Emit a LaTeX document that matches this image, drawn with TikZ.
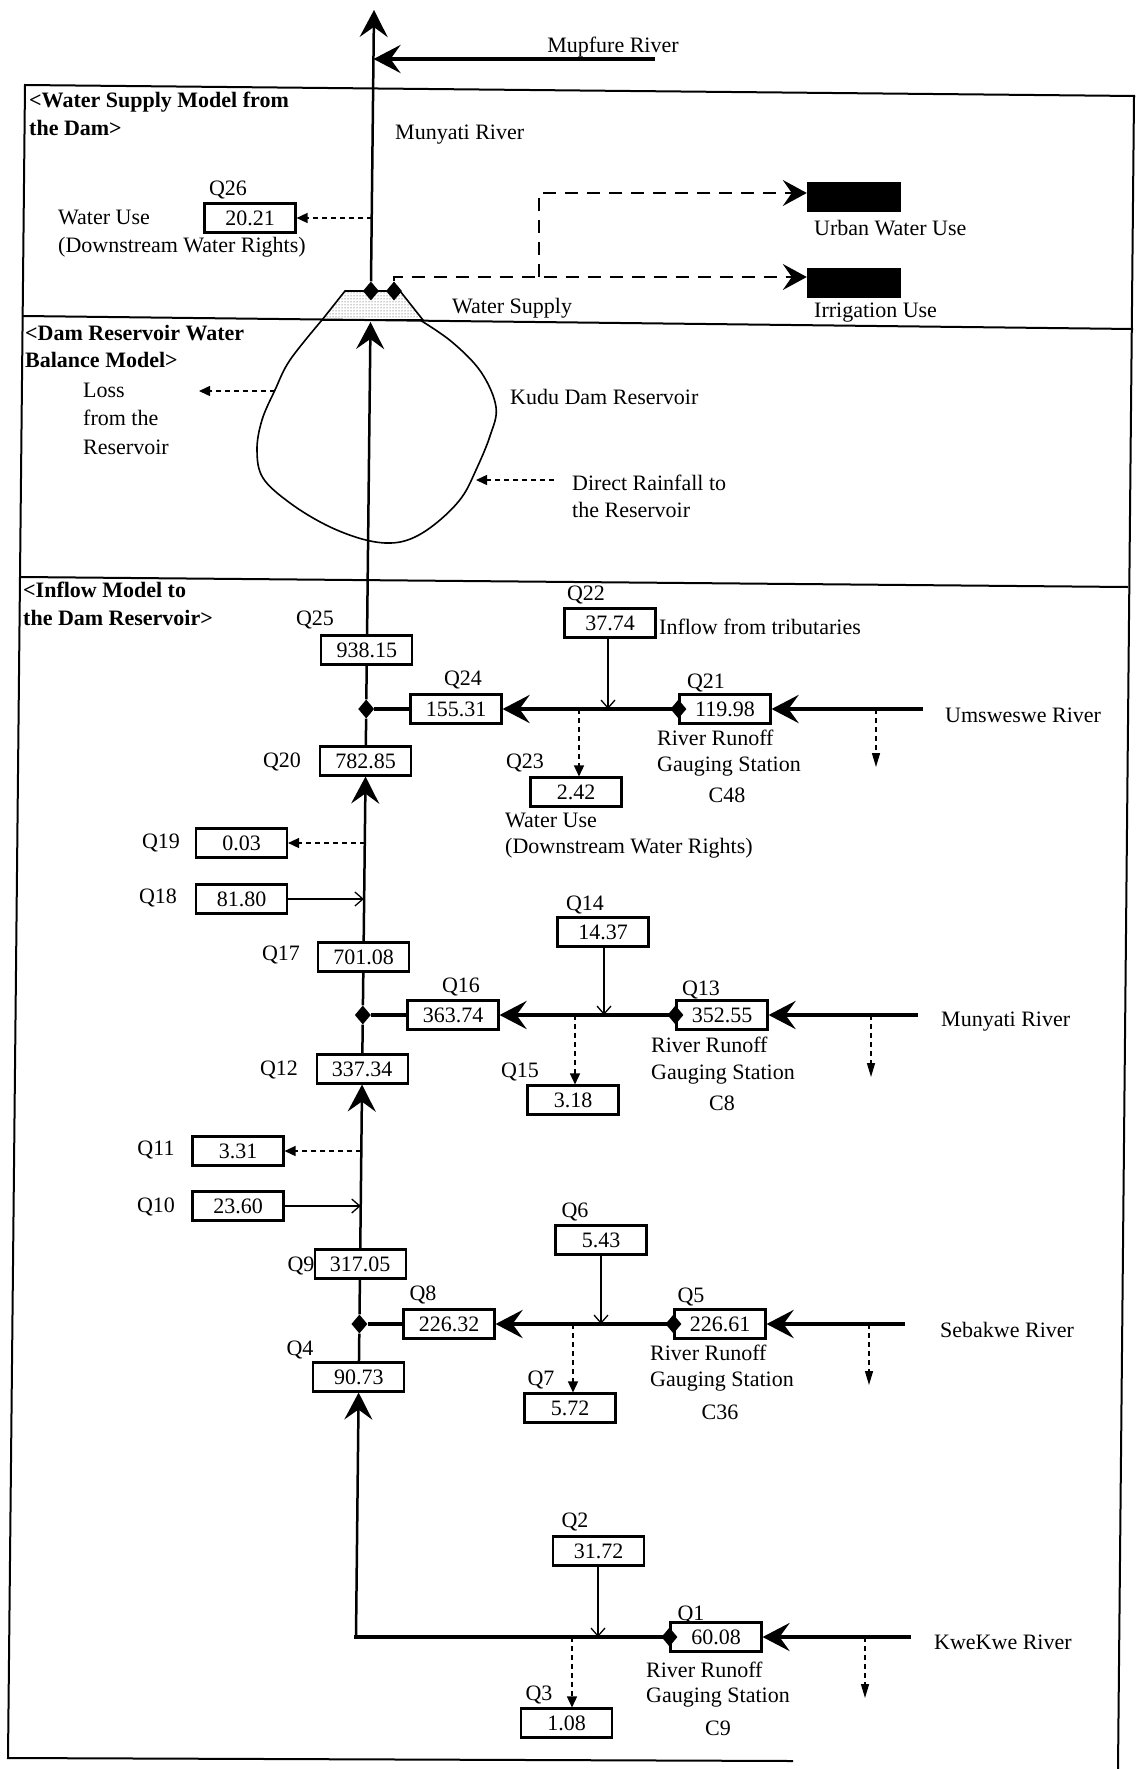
\documentclass[tikz,border=0pt]{standalone}
\usepackage{fontspec}
\setmainfont{Liberation Serif}
\usetikzlibrary{arrows.meta,shapes.geometric,patterns}
\begin{document}
\begin{tikzpicture}[x=1pt,y=-1pt,
  txt/.style={font=\fontsize{22}{28.5}\selectfont, inner sep=0pt},
  lft/.style={txt, anchor=west},
  hdr/.style={anchor=west, inner sep=0pt, font=\fontsize{22}{27}\selectfont\bfseries},
  qbox/.style={txt, draw, line width=2.1pt, fill=white, minimum width=91pt, minimum height=29pt},
  dia/.style={diamond, fill=black, inner sep=0pt, minimum width=16pt, minimum height=19pt},
  blk/.style={fill=black, inner sep=0pt, minimum width=94pt, minimum height=30pt},
  mainln/.style={line width=2.5pt},
  river/.style={line width=4.4pt},
  bigtip/.style={-{Stealth[length=27pt,width=28pt,inset=10pt]}},
  suptip/.style={-{Stealth[length=24pt,width=26pt,inset=9pt]}},
  thinarr/.style={line width=1.3pt, -{Straight Barb[length=8pt,width=14pt]}},
  dsh/.style={line width=1.4pt, dash pattern=on 5pt off 4pt, -{Triangle[length=11pt,width=10pt]}},
  dshd/.style={line width=1.4pt, dash pattern=on 5pt off 4pt, -{Triangle[length=14pt,width=8pt]}},
  supply/.style={line width=2.2pt, dash pattern=on 13pt off 9pt},
  framel/.style={line width=2pt}
]
\useasboundingbox (0,0) rectangle (1135,1769);

% ---------- frame and separators ----------
\draw[framel] (1135,96) -- (25,85) -- (8,1758) -- (793,1761);
\draw[framel] (1134,96) -- (1118,1769);
\draw[framel] (23,316) -- (1133,329);
\draw[framel] (21,577) -- (1128,587);

% ---------- section headers ----------
\node[hdr] at (29,102) {<Water Supply Model from};
\node[hdr] at (29,128) {the Dam>};
\node[hdr] at (25,333) {<Dam Reservoir Water};
\node[hdr] at (25,360) {Balance Model>};
\node[hdr] at (23,590) {<Inflow Model to};
\node[hdr] at (23,618) {the Dam Reservoir>};

% ---------- top: dam and water supply ----------
\coordinate (top) at (374,10);
\coordinate (mupE) at (655,59);
\coordinate (mupW) at (373.5,59);
\draw[line width=1.6pt, pattern=dots, pattern color=black!80] (345,291) -- (400,291) -- (423,320) -- (322,320) -- cycle;
\node[dia] (d1) at (370.9,291) {};
\node[dia] (d2) at (394,291) {};
\draw[mainln,bigtip] (d1) -- (top);
\draw[river,bigtip] (mupE) -- (mupW);
\node[txt] at (613,47) {Mupfure River};
\node[lft] at (395,135) {Munyati River};

\node[qbox] (Q26) at (250,218) {20.21};
\node[txt] at (228,190) {Q26};
\node[lft] at (58,217) {Water Use};
\node[lft] at (58,247) {(Downstream Water Rights)};
\coordinate (m26) at (371.7,218);
\draw[dsh] (m26) -- (Q26);

\node[blk] (urban) at (854,197) {};
\node[blk] (irr) at (854,283) {};
\coordinate (ws1) at (394,277);
\coordinate (ws2) at (539,277);
\coordinate (ws3) at (539,193);
\draw[supply,suptip] (d2) -- (ws1) -- (ws2) -- (ws2 -| irr.west);
\draw[supply,suptip] (ws2) -- (ws3) -- (ws3 -| urban.west);
\node[lft] at (814,228) {Urban Water Use};
\node[lft] at (814,313) {Irrigation Use};
\node[lft] at (452,308) {Water Supply};

% ---------- reservoir ----------
\draw[line width=1.6pt] plot[smooth, tension=0.6] coordinates {(322,320) (290,360) (275,390) (262,420) (257,450) (263,478) (290,503) (326,525) (362,539) (391,543) (415,537) (440,520) (462,497) (476,470) (490,436) (496,407) (481,372) (452,342) (420,320)};
\coordinate (lossA) at (275,391);
\coordinate (lossB) at (199,391);
\draw[dsh] (lossA) -- (lossB);
\node[lft] at (83,390) {Loss};
\node[lft] at (83,418) {from the};
\node[lft] at (83,447) {Reservoir};
\node[lft] at (510,397) {Kudu Dam Reservoir};
\coordinate (rainA) at (554,480);
\coordinate (rainB) at (476,480);
\draw[dsh] (rainA) -- (rainB);
\node[lft] at (572,483) {Direct Rainfall to};
\node[lft] at (572,510) {the Reservoir};

% ---------- boxes of inflow model ----------
\node[qbox] (Q25) at (366.9,650) {938.15};
\node[qbox] (Q20) at (365.7,761) {782.85};
\node[qbox] (Q17) at (363.5,957) {701.08};
\node[qbox] (Q12) at (362.2,1069) {337.34};
\node[qbox] (Q9)  at (360.1,1264) {317.05};
\node[qbox] (Q4)  at (358.8,1377) {90.73};
\node[qbox] (Q24) at (456,709) {155.31};
\node[qbox] (Q21) at (725,709) {119.98};
\node[qbox] (Q22) at (610,623) {37.74};
\node[qbox] (Q23) at (576,792) {2.42};
\node[qbox] (Q19) at (241.5,843) {0.03};
\node[qbox] (Q18) at (241.5,899) {81.80};
\node[qbox] (Q16) at (453,1015) {363.74};
\node[qbox] (Q13) at (722,1015) {352.55};
\node[qbox] (Q14) at (603,932) {14.37};
\node[qbox] (Q15) at (573,1100) {3.18};
\node[qbox] (Q11) at (238,1151) {3.31};
\node[qbox] (Q10) at (238,1206) {23.60};
\node[qbox] (Q8)  at (449,1324) {226.32};
\node[qbox] (Q5)  at (720,1324) {226.61};
\node[qbox] (Q6)  at (601,1240) {5.43};
\node[qbox] (Q7)  at (570,1408) {5.72};
\node[qbox] (Q2)  at (598.5,1551) {31.72};
\node[qbox] (Q1)  at (716,1637) {60.08};
\node[qbox] (Q3)  at (566.5,1723) {1.08};

% Q labels
\node[txt] at (315,620) {Q25};
\node[txt] at (463,680) {Q24};
\node[txt] at (586,595) {Q22};
\node[txt] at (706,683) {Q21};
\node[txt] at (525,763) {Q23};
\node[txt] at (282,762) {Q20};
\node[txt] at (161,843) {Q19};
\node[txt] at (158,898) {Q18};
\node[txt] at (281,955) {Q17};
\node[txt] at (461,987) {Q16};
\node[txt] at (585,905) {Q14};
\node[txt] at (701,990) {Q13};
\node[txt] at (520,1072) {Q15};
\node[txt] at (279,1070) {Q12};
\node[txt] at (156,1150) {Q11};
\node[txt] at (156,1207) {Q10};
\node[txt] at (301,1266) {Q9};
\node[txt] at (423,1295) {Q8};
\node[txt] at (575,1212) {Q6};
\node[txt] at (691,1297) {Q5};
\node[txt] at (541,1380) {Q7};
\node[txt] at (300,1350) {Q4};
\node[txt] at (575,1522) {Q2};
\node[txt] at (691,1615) {Q1};
\node[txt] at (539,1695) {Q3};

% junction diamonds
\node[dia] (J1) at (366.2,709) {};
\node[dia] (J2) at (362.8,1015) {};
\node[dia] (J3) at (359.4,1324) {};
\coordinate (damB) at (370.5,322);
\coordinate (corner) at (356,1637);

% ---------- main river ----------
\draw[mainln,bigtip] (Q25) -- (damB);
\draw[mainln] (Q25) -- (J1) -- (Q20);
\draw[mainln,bigtip] (Q17) -- (Q20);
\draw[mainln] (Q12) -- (J2) -- (Q17);
\draw[mainln,bigtip] (Q9) -- (Q12);
\draw[mainln] (Q4) -- (J3) -- (Q9);
\draw[mainln,bigtip] (corner) -- (Q4);

% side flows on main river
\coordinate (m19) at (364.7,843);
\coordinate (m18) at (363.9,899);
\coordinate (m11) at (361.3,1151);
\coordinate (m10) at (360.7,1206);
\draw[dsh] (m19) -- (Q19);
\draw[thinarr] (Q18) -- (m18);
\draw[dsh] (m11) -- (Q11);
\draw[thinarr] (Q10) -- (m10);

% ---------- Umsweswe River ----------
\coordinate (uE) at (923,709);
\coordinate (b22) at (608,709);
\coordinate (o23) at (579,709);
\coordinate (r21) at (876,709);
\coordinate (r21e) at (876,767);
\draw[river,bigtip] (uE) -- (Q21);
\draw[river,bigtip] (Q21.west) -- (Q24);
\draw[river] (Q24) -- (J1);
\node[dia] at (Q21.west) {};
\draw[thinarr] (Q22.south -| b22) -- (b22);
\draw[dsh] (o23) -- (o23 |- Q23.north);
\draw[dshd] (r21) -- (r21e);
\node[lft] at (659,627) {Inflow from tributaries};
\node[lft] at (945,715) {Umsweswe River};
\node[lft] at (657,738) {River Runoff};
\node[lft] at (657,767) {Gauging Station};
\node[txt] at (727,795) {C48};
\node[lft] at (505,820) {Water Use};
\node[lft] at (505,848) {(Downstream Water Rights)};

% ---------- Munyati River ----------
\coordinate (mE) at (918,1015);
\coordinate (b14) at (604,1015);
\coordinate (o15) at (575,1015);
\coordinate (r13) at (871,1015);
\coordinate (r13e) at (871,1077);
\draw[river,bigtip] (mE) -- (Q13);
\draw[river,bigtip] (Q13.west) -- (Q16);
\draw[river] (Q16) -- (J2);
\node[dia] at (Q13.west) {};
\draw[thinarr] (Q14.south -| b14) -- (b14);
\draw[dsh] (o15) -- (o15 |- Q15.north);
\draw[dshd] (r13) -- (r13e);
\node[lft] at (941,1022) {Munyati River};
\node[lft] at (651,1045) {River Runoff};
\node[lft] at (651,1075) {Gauging Station};
\node[txt] at (722,1103) {C8};

% ---------- Sebakwe River ----------
\coordinate (sE) at (905,1324);
\coordinate (b6) at (601,1324);
\coordinate (o7) at (573,1324);
\coordinate (r5) at (869,1324);
\coordinate (r5e) at (869,1385);
\draw[river,bigtip] (sE) -- (Q5);
\draw[river,bigtip] (Q5.west) -- (Q8);
\draw[river] (Q8) -- (J3);
\node[dia] at (Q5.west) {};
\draw[thinarr] (Q6.south -| b6) -- (b6);
\draw[dsh] (o7) -- (o7 |- Q7.north);
\draw[dshd] (r5) -- (r5e);
\node[lft] at (940,1330) {Sebakwe River};
\node[lft] at (650,1353) {River Runoff};
\node[lft] at (650,1382) {Gauging Station};
\node[txt] at (720,1412) {C36};

% ---------- KweKwe River ----------
\coordinate (kE) at (911,1637);
\coordinate (b2) at (598,1637);
\coordinate (o3) at (572,1637);
\coordinate (r1) at (865,1637);
\coordinate (r1e) at (865,1698);
\draw[river,bigtip] (kE) -- (Q1);
\draw[river,line cap=rect] (Q1.west) -- (corner);
\node[dia] at (Q1.west) {};
\draw[thinarr] (Q2.south -| b2) -- (b2);
\draw[dsh] (o3) -- (o3 |- Q3.north);
\draw[dshd] (r1) -- (r1e);
\node[lft] at (934,1642) {KweKwe River};
\node[lft] at (646,1670) {River Runoff};
\node[lft] at (646,1698) {Gauging Station};
\node[txt] at (718,1728) {C9};
\end{tikzpicture}
\end{document}
